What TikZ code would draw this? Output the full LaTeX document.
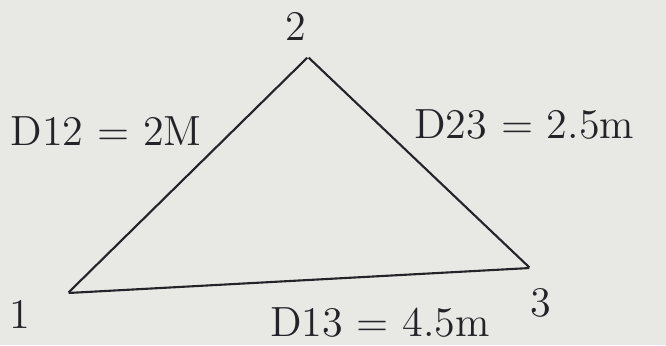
\documentclass[tikz,border=0pt]{standalone}
\definecolor{paper}{RGB}{232,232,229}
\definecolor{ink}{RGB}{35,35,40}
\begin{document}
\begin{tikzpicture}[font=\large, color=ink,
    corner/.style={inner sep=0pt, minimum size=0pt},
    side/.style={line width=0.6pt}]
        % Paper
        \fill[paper] (0,0) rectangle (6.66,3.45);
        \useasboundingbox (0,0) rectangle (6.66,3.45);

        % Nodes (corners of the triangle)
        \node (v1) at (0.68,0.52) [corner, label={[label distance=7pt, yshift=-6pt]left:{1}}] {};
        \node (v2) at (3.08,2.88) [corner, label={[label distance=1pt, xshift=-3.5pt]above:{2}}] {};
        \node (v3) at (5.30,0.77) [corner, label={[label distance=2pt, xshift=3pt]below:{3}}] {};

        % Edges
        \draw[side] (v1) -- (v2);
        \draw[side] (v2) -- (v3);
        \draw[side] (v1) -- (v3);

        % Distances
        \node (d12) at (2.14,2.14) [anchor=east] {D12 = 2M};
        \node (d23) at (4.02,2.20) [anchor=west] {D23 = 2.5m};
        \node (d13) at (3.80,0.22) {D13 = 4.5m};
      \end{tikzpicture}
\end{document}
